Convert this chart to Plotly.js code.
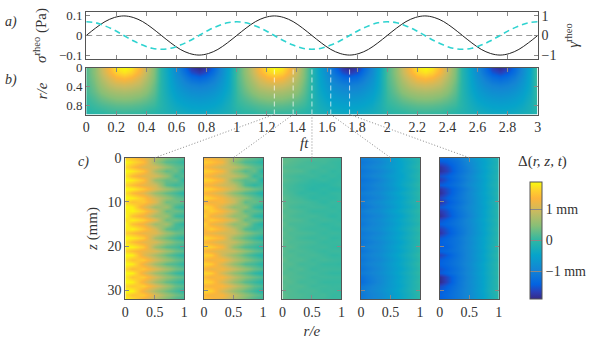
<!DOCTYPE html>
<html>
<head>
<meta charset="utf-8">
<script src="https://cdn.plot.ly/plotly-3.0.1.min.js"></script>
<style>
  html, body { margin: 0; padding: 0; background: #fff; }
</style>
</head>
<body>
<div id="chart" style="width:599px;height:342px"></div>
<script>
// panel a
var ftCurve = [0,0.0625,0.125,0.1875,0.25,0.3125,0.375,0.4375,0.5,0.5625,0.625,0.6875,0.75,0.8125,0.875,0.9375,1,1.0625,1.125,1.1875,1.25,1.3125,1.375,1.4375,1.5,1.5625,1.625,1.6875,1.75,1.8125,1.875,1.9375,2,2.0625,2.125,2.1875,2.25,2.3125,2.375,2.4375,2.5,2.5625,2.625,2.6875,2.75,2.8125,2.875,2.9375,3];
var sigmaRheo = [0,0.038,0.071,0.092,0.1,0.092,0.071,0.038,0,-0.038,-0.071,-0.092,-0.1,-0.092,-0.071,-0.038,0,0.038,0.071,0.092,0.1,0.092,0.071,0.038,0,-0.038,-0.071,-0.092,-0.1,-0.092,-0.071,-0.038,0,0.038,0.071,0.092,0.1,0.092,0.071,0.038,0,-0.038,-0.071,-0.092,-0.1,-0.092,-0.071,-0.038,0];
var gammaRheo = [0.7,0.65,0.49,0.27,0,-0.27,-0.49,-0.65,-0.7,-0.65,-0.49,-0.27,0,0.27,0.49,0.65,0.7,0.65,0.49,0.27,0,-0.27,-0.49,-0.65,-0.7,-0.65,-0.49,-0.27,0,0.27,0.49,0.65,0.7,0.65,0.49,0.27,0,-0.27,-0.49,-0.65,-0.7,-0.65,-0.49,-0.27,0,0.27,0.49,0.65,0.7];

// panel b
var ftMap = [0,0.05,0.1,0.15,0.2,0.25,0.3,0.35,0.4,0.45,0.5,0.55,0.6,0.65,0.7,0.75,0.8,0.85,0.9,0.95,1,1.05,1.1,1.15,1.2,1.25,1.3,1.35,1.4,1.45,1.5,1.55,1.6,1.65,1.7,1.75,1.8,1.85,1.9,1.95,2,2.05,2.1,2.15,2.2,2.25,2.3,2.35,2.4,2.45,2.5,2.55,2.6,2.65,2.7,2.75,2.8,2.85,2.9,2.95,3];
var rMap = [0,0.1,0.2,0.35,0.5,0.65,0.8,0.98];
var deltaMap = [
  [0.2,0.5,0.95,1.4,1.8,1.9,1.8,1.4,0.95,0.45,-0.1,-0.5,-0.9,-1.35,-1.75,-1.9,-1.75,-1.35,-0.9,-0.45,0.15,0.5,0.95,1.4,1.8,1.9,1.8,1.4,0.95,0.45,-0.1,-0.5,-0.9,-1.35,-1.75,-1.9,-1.75,-1.35,-0.9,-0.45,0.15,0.5,0.95,1.4,1.8,1.9,1.8,1.4,0.95,0.45,-0.1,-0.5,-0.9,-1.3,-1.7,-1.85,-1.7,-1.3,-0.9,-0.45,0.15],
  [0.2,0.5,0.9,1.3,1.62,1.75,1.62,1.3,0.9,0.42,-0.1,-0.48,-0.85,-1.2,-1.55,-1.7,-1.55,-1.2,-0.85,-0.42,0.15,0.5,0.9,1.3,1.62,1.75,1.62,1.3,0.9,0.42,-0.1,-0.48,-0.85,-1.2,-1.55,-1.7,-1.55,-1.2,-0.85,-0.42,0.15,0.5,0.9,1.3,1.62,1.75,1.62,1.3,0.9,0.42,-0.1,-0.48,-0.85,-1.2,-1.5,-1.65,-1.5,-1.2,-0.85,-0.42,0.15],
  [0.2,0.45,0.8,1.1,1.35,1.45,1.35,1.1,0.8,0.4,-0.1,-0.45,-0.78,-1.05,-1.28,-1.38,-1.28,-1.05,-0.78,-0.4,0.15,0.45,0.8,1.1,1.35,1.45,1.35,1.1,0.8,0.4,-0.1,-0.45,-0.78,-1.05,-1.28,-1.38,-1.28,-1.05,-0.78,-0.4,0.15,0.45,0.8,1.1,1.35,1.45,1.35,1.1,0.8,0.4,-0.1,-0.45,-0.78,-1.05,-1.25,-1.35,-1.25,-1.05,-0.78,-0.4,0.15],
  [0.15,0.38,0.65,0.88,1,1.05,1,0.88,0.65,0.32,-0.1,-0.42,-0.68,-0.88,-1,-1.05,-1,-0.88,-0.68,-0.38,0.12,0.38,0.65,0.88,1,1.05,1,0.88,0.65,0.32,-0.1,-0.42,-0.68,-0.88,-1,-1.05,-1,-0.88,-0.68,-0.38,0.12,0.38,0.65,0.88,1,1.05,1,0.88,0.65,0.32,-0.1,-0.42,-0.68,-0.88,-1,-1.05,-1,-0.88,-0.68,-0.38,0.12],
  [0.12,0.3,0.5,0.65,0.72,0.75,0.72,0.65,0.5,0.25,-0.1,-0.38,-0.58,-0.72,-0.82,-0.85,-0.82,-0.72,-0.58,-0.34,0.08,0.3,0.5,0.65,0.72,0.75,0.72,0.65,0.5,0.25,-0.1,-0.38,-0.58,-0.72,-0.82,-0.85,-0.82,-0.72,-0.58,-0.34,0.08,0.3,0.5,0.65,0.72,0.75,0.72,0.65,0.5,0.25,-0.1,-0.38,-0.58,-0.72,-0.82,-0.85,-0.82,-0.72,-0.58,-0.34,0.08],
  [0.05,0.18,0.32,0.42,0.48,0.5,0.48,0.42,0.32,0.16,-0.1,-0.32,-0.48,-0.58,-0.65,-0.68,-0.65,-0.58,-0.48,-0.28,0.05,0.18,0.32,0.42,0.48,0.5,0.48,0.42,0.32,0.16,-0.1,-0.32,-0.48,-0.58,-0.65,-0.68,-0.65,-0.58,-0.48,-0.28,0.05,0.18,0.32,0.42,0.48,0.5,0.48,0.42,0.32,0.16,-0.1,-0.32,-0.48,-0.58,-0.65,-0.68,-0.65,-0.58,-0.48,-0.28,0.05],
  [0,0.07,0.14,0.2,0.24,0.25,0.24,0.2,0.14,0.06,-0.1,-0.26,-0.38,-0.46,-0.5,-0.52,-0.5,-0.46,-0.38,-0.22,0,0.07,0.14,0.2,0.24,0.25,0.24,0.2,0.14,0.06,-0.1,-0.26,-0.38,-0.46,-0.5,-0.52,-0.5,-0.46,-0.38,-0.22,0,0.07,0.14,0.2,0.24,0.25,0.24,0.2,0.14,0.06,-0.1,-0.26,-0.38,-0.46,-0.5,-0.52,-0.5,-0.46,-0.38,-0.22,0],
  [-0.1,-0.05,-0.05,0,0,0.02,0,0,-0.05,-0.1,-0.15,-0.2,-0.25,-0.3,-0.35,-0.35,-0.35,-0.3,-0.25,-0.2,-0.1,-0.05,-0.05,0,0,0.02,0,0,-0.05,-0.1,-0.15,-0.2,-0.25,-0.3,-0.35,-0.35,-0.35,-0.3,-0.25,-0.2,-0.1,-0.05,-0.05,0,0,0.02,0,0,-0.05,-0.1,-0.15,-0.2,-0.25,-0.3,-0.35,-0.35,-0.35,-0.3,-0.25,-0.2,-0.1]
];

// panel c
var snapshotFt = [1.25,1.375,1.5,1.625,1.75];
var rSnap = [0,0.12,0.3,0.5,0.7,0.85,1];
var zSnap = [0,1,2,3,4,5,6,7,8,9,10,11,12,13,14,15,16,17,18,19,20,21,22,23,24,25,26,27,28,29,30,31,32];
var delta125 = [
  [1.6,1.5,1.25,0.8,0.42,0.28,0.18],
  [1.9,1.72,1.45,0.62,0.22,0.14,0],
  [1.7,1.45,1.12,1.02,0.58,0.3,0.2],
  [1.9,1.8,1.52,0.7,0.26,0.36,-0.02],
  [1.76,1.42,1.15,1.05,0.62,0.12,0.22],
  [1.9,1.82,1.5,0.58,0.3,0.34,-0.05],
  [1.66,1.46,1.2,0.98,0.24,0.08,0.18],
  [1.9,1.84,1.56,1.08,0.66,0.4,0.24],
  [1.74,1.42,1.16,0.6,0.28,0.12,-0.08],
  [1.9,1.82,1.52,1,0.62,0.32,0.2],
  [1.68,1.48,1.55,1.12,0.34,0.38,0.25],
  [1.9,1.8,1.2,0.64,0.68,0.14,-0.03],
  [1.78,1.86,1.6,1.05,0.3,0.36,0.22],
  [1.9,1.5,1.24,0.68,0.62,0.1,0],
  [1.68,1.84,1.62,1.14,0.34,0.4,0.24],
  [1.9,1.48,1.25,0.64,0.7,0.16,-0.04],
  [1.78,1.86,1.54,1.04,0.28,0.12,0.2],
  [1.62,1.44,1.2,1.14,0.66,0.38,0.23],
  [1.9,1.82,1.58,0.68,0.32,0.12,-0.05],
  [1.74,1.46,1.18,1.08,0.62,0.35,0.22],
  [1.9,1.86,1.56,0.62,0.24,0.14,-0.02],
  [1.64,1.44,1.24,1.1,0.68,0.38,0.24],
  [1.9,1.84,1.16,0.7,0.3,0.1,-0.06],
  [1.72,1.48,1.58,1.04,0.64,0.36,0.2],
  [1.9,1.82,1.22,0.66,0.26,0.16,-0.03],
  [1.66,1.4,1.54,1.12,0.72,0.4,0.25],
  [1.9,1.86,1.18,0.64,0.32,0.08,-0.08],
  [1.78,1.5,1.58,1.06,0.62,0.38,0.22],
  [1.9,1.84,1.26,0.68,0.28,0.12,-0.04],
  [1.68,1.54,1.62,1.14,0.7,0.34,0.2],
  [1.9,1.88,1.24,0.7,0.34,0.14,-0.06],
  [1.74,1.5,1.56,1.08,0.64,0.38,0.22],
  [1.88,1.78,1.26,0.76,0.36,0.14,0]
];
var delta137 = [
  [1.35,1.3,1.12,0.7,0.36,0.24,0.12],
  [1.6,1.52,1.3,0.5,0.16,0.08,-0.06],
  [1.36,1.22,0.98,0.88,0.5,0.26,0.16],
  [1.64,1.56,1.32,0.56,0.2,0.32,-0.1],
  [1.4,1.26,0.98,0.9,0.52,0.06,0.16],
  [1.66,1.58,1.3,0.48,0.22,0.28,-0.14],
  [1.34,1.28,1.02,0.84,0.18,0,0.12],
  [1.62,1.58,1.34,0.92,0.54,0.34,0.18],
  [1.38,1.24,1,0.5,0.2,0.06,-0.16],
  [1.66,1.56,1.3,0.88,0.52,0.26,0.14],
  [1.36,1.26,1.34,0.96,0.26,0.32,0.18],
  [1.68,1.54,1.04,0.54,0.56,0.08,-0.1],
  [1.42,1.6,1.36,0.9,0.24,0.3,0.16],
  [1.66,1.28,1.06,0.56,0.52,0.04,-0.08],
  [1.34,1.58,1.38,0.98,0.28,0.34,0.18],
  [1.64,1.26,1.06,0.54,0.58,0.1,-0.1],
  [1.4,1.6,1.32,0.88,0.22,0.06,0.14],
  [1.32,1.22,1.04,0.96,0.54,0.32,0.16],
  [1.66,1.56,1.36,0.58,0.26,0.06,-0.12],
  [1.38,1.24,1.02,0.92,0.5,0.28,0.16],
  [1.68,1.6,1.34,0.52,0.18,0.08,-0.08],
  [1.34,1.22,1.06,0.94,0.56,0.32,0.18],
  [1.64,1.58,1,0.58,0.24,0.04,-0.12],
  [1.38,1.26,1.36,0.88,0.52,0.3,0.14],
  [1.66,1.56,1.06,0.56,0.2,0.1,-0.08],
  [1.34,1.2,1.32,0.96,0.6,0.34,0.18],
  [1.68,1.6,1.02,0.54,0.26,0.02,-0.14],
  [1.42,1.28,1.36,0.9,0.52,0.32,0.16],
  [1.66,1.58,1.08,0.58,0.22,0.06,-0.1],
  [1.36,1.32,1.38,0.98,0.58,0.28,0.14],
  [1.68,1.62,1.06,0.6,0.28,0.08,-0.12],
  [1.4,1.28,1.34,0.92,0.54,0.32,0.16],
  [1.56,1.46,1.16,0.72,0.36,0.14,0]
];
var delta150 = [
  [0.24,0.26,0.2,0.18,0.14,0.1,0.08],
  [0.3,0.22,0.16,0.1,0.12,0.06,0.04],
  [0.2,0.18,0.12,0.14,0.06,0.08,0.02],
  [0.26,0.2,0.18,0.06,0.1,0.02,0.06],
  [0.18,0.14,0.08,0.1,0.02,0.06,0],
  [0.24,0.16,0.1,0.02,0.06,0,0.04],
  [0.16,0.12,0.04,0,-0.04,0.02,0.06],
  [0.22,0.1,0.06,-0.04,0.02,-0.04,0],
  [0.18,0.14,0.02,0.04,-0.02,0.04,0.04],
  [0.26,0.16,0.1,0,0.04,0,0.06],
  [0.2,0.18,0.14,0.08,0,0.06,0.02],
  [0.28,0.14,0.08,0.1,0.08,0.02,0.06],
  [0.18,0.2,0.14,0.04,0.04,0.06,0.02],
  [0.26,0.16,0.1,0.12,0.06,0,0.06],
  [0.2,0.2,0.16,0.06,0.1,0.06,0.02],
  [0.28,0.14,0.12,0.1,0.02,0.04,0.08],
  [0.18,0.22,0.1,0.06,0.08,0.02,0.02],
  [0.26,0.16,0.16,0.12,0.04,0.08,0.06],
  [0.2,0.2,0.1,0.06,0.1,0.02,0.04],
  [0.28,0.16,0.16,0.12,0.04,0.06,0.08],
  [0.18,0.22,0.12,0.08,0.1,0.04,0.02],
  [0.26,0.14,0.16,0.1,0.04,0.08,0.08],
  [0.2,0.2,0.12,0.14,0.08,0.02,0.04],
  [0.3,0.16,0.18,0.08,0.12,0.08,0.06],
  [0.2,0.22,0.1,0.12,0.04,0.04,0.02],
  [0.26,0.14,0.18,0.06,0.1,0.08,0.08],
  [0.18,0.2,0.12,0.12,0.06,0.02,0.02],
  [0.28,0.18,0.16,0.08,0.1,0.08,0.08],
  [0.2,0.22,0.1,0.12,0.04,0.04,0.04],
  [0.26,0.16,0.18,0.08,0.1,0.06,0.08],
  [0.2,0.2,0.12,0.14,0.06,0.08,0.02],
  [0.28,0.18,0.16,0.1,0.12,0.04,0.06],
  [0.22,0.2,0.14,0.12,0.08,0.06,0.06]
];
var delta162 = [
  [-1.02,-0.98,-0.86,-0.6,-0.38,-0.2,-0.06],
  [-1.14,-1.06,-0.94,-0.68,-0.44,-0.28,-0.1],
  [-1.06,-0.98,-0.84,-0.62,-0.46,-0.22,-0.04],
  [-1.16,-1.08,-0.96,-0.72,-0.42,-0.3,-0.1],
  [-1.08,-1,-0.86,-0.62,-0.48,-0.24,-0.06],
  [-1.2,-1.12,-0.98,-0.7,-0.44,-0.3,-0.08],
  [-1.1,-1.04,-0.88,-0.66,-0.4,-0.22,-0.02],
  [-1.18,-1.08,-0.94,-0.72,-0.48,-0.28,-0.08],
  [-1.04,-0.98,-0.86,-0.6,-0.38,-0.22,-0.02],
  [-1.14,-1.06,-0.94,-0.68,-0.46,-0.26,-0.06],
  [-1.08,-0.98,-0.82,-0.6,-0.4,-0.2,-0.04],
  [-1.16,-1.06,-0.9,-0.68,-0.44,-0.28,-0.08],
  [-1.04,-0.94,-0.82,-0.56,-0.36,-0.18,0],
  [-1.12,-1.04,-0.92,-0.66,-0.46,-0.24,-0.06],
  [-1.06,-0.98,-0.84,-0.6,-0.38,-0.2,-0.02],
  [-1.14,-1.02,-0.88,-0.66,-0.42,-0.26,-0.08],
  [-1.02,-0.94,-0.82,-0.58,-0.36,-0.18,0.02],
  [-1.12,-1.04,-0.92,-0.66,-0.44,-0.24,-0.06],
  [-1.06,-0.98,-0.82,-0.6,-0.38,-0.2,0],
  [-1.16,-1.06,-0.92,-0.68,-0.46,-0.24,-0.06],
  [-1.08,-0.96,-0.86,-0.6,-0.38,-0.22,0],
  [-1.18,-1.06,-0.9,-0.66,-0.44,-0.24,-0.06],
  [-1.06,-0.98,-0.84,-0.58,-0.36,-0.18,0.02],
  [-1.16,-1.04,-0.92,-0.66,-0.42,-0.24,-0.04],
  [-1.08,-0.98,-0.84,-0.6,-0.38,-0.18,0.02],
  [-1.18,-1.06,-0.9,-0.64,-0.44,-0.24,-0.04],
  [-1.08,-1,-0.84,-0.6,-0.36,-0.18,0.02],
  [-1.22,-1.08,-0.9,-0.66,-0.42,-0.22,-0.04],
  [-1.28,-1.12,-0.92,-0.62,-0.38,-0.2,0.02],
  [-1.12,-1.02,-0.86,-0.64,-0.42,-0.2,-0.02],
  [-1.06,-0.98,-0.82,-0.58,-0.36,-0.18,0.02],
  [-1.14,-1.02,-0.88,-0.64,-0.4,-0.22,-0.02],
  [-1.08,-1,-0.86,-0.6,-0.38,-0.18,0]
];
var delta175 = [
  [-1.3,-1.28,-1.1,-0.78,-0.5,-0.3,-0.1],
  [-1.5,-1.42,-1.2,-0.86,-0.58,-0.36,-0.14],
  [-1.78,-1.6,-1.24,-0.92,-0.56,-0.32,-0.1],
  [-1.82,-1.66,-1.26,-0.96,-0.62,-0.36,-0.14],
  [-1.56,-1.44,-1.18,-0.88,-0.56,-0.32,-0.1],
  [-1.7,-1.5,-1.24,-0.92,-0.62,-0.34,-0.12],
  [-1.46,-1.38,-1.16,-0.84,-0.58,-0.3,-0.08],
  [-1.76,-1.56,-1.26,-0.94,-0.6,-0.34,-0.12],
  [-1.84,-1.58,-1.22,-0.88,-0.56,-0.32,-0.06],
  [-1.62,-1.44,-1.18,-0.9,-0.6,-0.36,-0.1],
  [-1.78,-1.52,-1.24,-0.92,-0.58,-0.3,-0.06],
  [-1.5,-1.4,-1.16,-0.86,-0.62,-0.34,-0.08],
  [-1.72,-1.54,-1.2,-0.9,-0.58,-0.3,-0.04],
  [-1.84,-1.6,-1.24,-0.94,-0.6,-0.32,-0.08],
  [-1.56,-1.42,-1.16,-0.86,-0.54,-0.28,-0.04],
  [-1.44,-1.34,-1.14,-0.88,-0.58,-0.32,-0.06],
  [-1.68,-1.5,-1.2,-0.9,-0.56,-0.28,-0.02],
  [-1.78,-1.54,-1.22,-0.9,-0.6,-0.32,-0.06],
  [-1.5,-1.38,-1.14,-0.84,-0.54,-0.28,-0.02],
  [-1.42,-1.34,-1.16,-0.88,-0.56,-0.3,-0.06],
  [-1.48,-1.4,-1.14,-0.84,-0.54,-0.26,-0.02],
  [-1.4,-1.32,-1.14,-0.88,-0.58,-0.3,-0.06],
  [-1.66,-1.48,-1.18,-0.86,-0.54,-0.26,0],
  [-1.46,-1.36,-1.14,-0.88,-0.58,-0.3,-0.06],
  [-1.42,-1.32,-1.12,-0.84,-0.52,-0.26,-0.02],
  [-1.54,-1.42,-1.18,-0.88,-0.56,-0.28,-0.04],
  [-1.48,-1.36,-1.14,-0.84,-0.52,-0.26,0],
  [-1.84,-1.6,-1.2,-0.88,-0.56,-0.28,-0.04],
  [-1.88,-1.62,-1.18,-0.84,-0.54,-0.26,0],
  [-1.6,-1.44,-1.16,-0.86,-0.56,-0.26,-0.04],
  [-1.48,-1.36,-1.12,-0.84,-0.52,-0.24,0],
  [-1.42,-1.32,-1.12,-0.86,-0.56,-0.28,-0.04],
  [-1.46,-1.34,-1.12,-0.84,-0.52,-0.26,-0.02]
];
var snapshots = [delta125,delta137,delta150,delta162,delta175];

var parula = [
  [0,"#352a87"],[0.06,"#2b3fb8"],[0.125,"#0363e1"],[0.25,"#1485d4"],[0.375,"#06a4ca"],
  [0.5,"#2eb7a4"],[0.625,"#87bf77"],[0.75,"#c9bb60"],[0.86,"#fdb53a"],[0.93,"#fed22c"],[1,"#f9fb0e"]
];

var W = 599, H = 342;
function fx(p) { return p / W; }
function fy(p) { return 1 - p / H; }

var serif = '"Liberation Serif"';
var ink = "#333";
var tickFont = {family: serif, size: 14, color: ink};
var smallTick = {family: serif, size: 13, color: ink};
var titleFont = {family: serif, size: 15, color: ink};
var frame = "#555";

// pixel boxes of the panels
var mainLeft = 86.5, mainRight = 539.5;
var aTop = 12, aBottom = 59, bTop = 67.5, bBottom = 114.5;
var cTop = 157.7, cBottom = 299.3;
var cLeft = [125.7,204.7,283.4,362.2,441.3];
var cWidth = 59.2;

var traces = [
  {x: [0,3], y: [0,0], xaxis: "x", yaxis: "y", mode: "lines", line: {color: "#999", width: 1, dash: "6px,4px"}, hoverinfo: "skip"},
  {x: ftCurve, y: sigmaRheo, xaxis: "x", yaxis: "y", mode: "lines", line: {color: "#222", width: 1, shape: "spline"}},
  {x: ftCurve, y: gammaRheo, xaxis: "x", yaxis: "y2", mode: "lines", line: {color: "#2fd3d0", width: 1.6, dash: "6px,4px", shape: "spline"}},
  {type: "heatmap", x: ftMap, y: rMap, z: deltaMap, xaxis: "x2", yaxis: "y3", coloraxis: "coloraxis", zsmooth: "best"}
];

var axisBase = {
  showgrid: false, zeroline: false, ticks: "inside", ticklen: 4, tickwidth: 1, tickcolor: "#888",
  showline: true, linecolor: frame, linewidth: 1, mirror: "ticks", tickfont: tickFont
};
function axis(extra) { return Object.assign({}, axisBase, extra); }

var layout = {
  width: W, height: H,
  margin: {l: 0, r: 0, t: 0, b: 0},
  paper_bgcolor: "#fff", plot_bgcolor: "#fff",
  showlegend: false,
  font: {family: serif, size: 14, color: ink},
  coloraxis: {
    cmin: -1.9, cmax: 1.9, colorscale: parula,
    colorbar: {
      x: fx(531.3), xanchor: "left", xpad: 0,
      y: fy((181.7 + 299) / 2), yanchor: "middle", ypad: 0,
      len: 117.3, lenmode: "pixels", thickness: 12, thicknessmode: "pixels",
      outlinecolor: frame, outlinewidth: 1,
      tickmode: "array", tickvals: [-1,0,1], ticktext: ["\u22121 mm","0","1 mm"],
      ticks: "inside", ticklen: 12, tickcolor: "#888", tickwidth: 1, tickfont: tickFont
    }
  },
  xaxis: axis({domain: [fx(mainLeft), fx(mainRight)], range: [0,3], dtick: 0.2, tick0: 0, showticklabels: false, anchor: "y"}),
  yaxis: axis({domain: [fy(aBottom), fy(aTop)], range: [-0.12,0.12], tickvals: [-0.1,0,0.1], anchor: "x", tickfont: smallTick,
    mirror: false, title: {text: "<i>σ</i><sup>rheo</sup> (Pa)", font: titleFont, standoff: 8}}),
  yaxis2: axis({domain: [fy(aBottom), fy(aTop)], range: [-1.2,1.2], tickvals: [-1,0,1], overlaying: "y", side: "right", anchor: "x",
    mirror: false, title: {text: "<i>γ</i><sup>rheo</sup>", font: titleFont, standoff: 12}}),
  xaxis2: axis({domain: [fx(mainLeft), fx(mainRight)], range: [0,3], dtick: 0.2, tick0: 0, anchor: "y3"}),
  yaxis3: axis({domain: [fy(bBottom), fy(bTop)], range: [0.98,0], tickvals: [0,0.4,0.8], anchor: "x2", tickfont: smallTick,
    title: {text: "<i>r/e</i>", font: titleFont, standoff: 15}}),
  shapes: [],
  annotations: [
    {text: "<i>a)</i>", xref: "paper", yref: "paper", x: fx(11), y: fy(12), xanchor: "center", showarrow: false, font: {family: serif, size: 14, color: ink}},
    {text: "<i>b)</i>", xref: "paper", yref: "paper", x: fx(11), y: fy(70), xanchor: "center", showarrow: false, font: {family: serif, size: 14, color: ink}},
    {text: "<i>c)</i>", xref: "paper", yref: "paper", x: fx(84), y: fy(162), xanchor: "center", showarrow: false, font: {family: serif, size: 14, color: ink}},
    {text: "<i>ft</i>", xref: "paper", yref: "paper", x: fx(306), y: fy(143), xanchor: "center", showarrow: false, font: titleFont},
    {text: "Δ(<i>r, z, t</i>)", xref: "paper", yref: "paper", x: fx(544), y: fy(161), xanchor: "center", showarrow: false, font: titleFont}
  ]
};

// the five snapshots, one subplot each
snapshots.forEach(function (grid, i) {
  var n = i + 3, m = i + 4;
  traces.push({type: "heatmap", x: rSnap, y: zSnap, z: grid, xaxis: "x" + n, yaxis: "y" + m, coloraxis: "coloraxis", zsmooth: "best"});
  layout["xaxis" + n] = axis({
    domain: [fx(cLeft[i]), fx(cLeft[i] + cWidth)], range: [0,1], tickvals: [0,0.5,1], anchor: "y" + m,
    title: i === 2 ? {text: "<i>r/e</i>", font: titleFont, standoff: 6} : undefined
  });
  layout["yaxis" + m] = axis({
    domain: [fy(cBottom), fy(cTop)], range: [32,0], tickvals: [0,10,20,30], anchor: "x" + n,
    showticklabels: i === 0,
    title: i === 0 ? {text: "<i>z</i> (mm)", font: titleFont, standoff: 6} : undefined
  });

  // dashed marker on panel b, dotted link down to the snapshot
  var ftPx = mainLeft + snapshotFt[i] / 3 * (mainRight - mainLeft);
  layout.shapes.push({type: "line", xref: "x2", yref: "paper", x0: snapshotFt[i], x1: snapshotFt[i], y0: fy(bBottom), y1: fy(bTop),
    line: {color: "rgba(255,255,255,0.72)", width: 1, dash: "5px,3px"}});
  layout.shapes.push({type: "line", xref: "paper", yref: "paper", x0: fx(ftPx), x1: fx(cLeft[i] + cWidth / 2), y0: fy(bBottom), y1: fy(cTop),
    line: {color: "#888", width: 1, dash: "1px,2px"}});
});

Plotly.newPlot("chart", traces, layout, {displayModeBar: false, staticPlot: true});
</script>
</body>
</html>
